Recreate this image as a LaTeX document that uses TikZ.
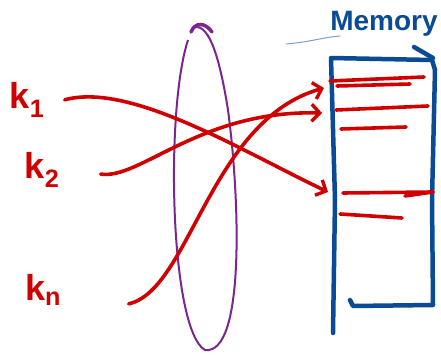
\documentclass[tikz,border=0pt]{standalone}
\usepackage{fontspec}
\setmainfont{Liberation Sans}
\usetikzlibrary{arrows.meta}
\definecolor{inkred}{HTML}{D00000}
\definecolor{inkblue}{HTML}{0B4A94}
\definecolor{inkpurple}{HTML}{7A2590}
\definecolor{inklight}{HTML}{7FA0CC}
\tikzset{
  redink/.style={draw=inkred, line width=3.6pt, line cap=round, line join=round},
  blueink/.style={draw=inkblue, line width=4.5pt, line cap=round, line join=round},
  arr/.style={-{Straight Barb[length=8pt,width=17pt,line width=3.4pt]}},
  keylabel/.style={text=inkred, font=\bfseries\fontsize{36}{36}\selectfont, inner sep=0pt},
}
\begin{document}
\begin{tikzpicture}[x=1pt,y=-1pt]
\useasboundingbox (0,0) rectangle (441,355);
% labels
\node[keylabel] (k1) at (27,100) {k\textsubscript{1}};
\node[keylabel] (k2) at (42,170) {k\textsubscript{2}};
\node[keylabel] (kn) at (43,290) {k\textsubscript{n}};
\node[text=inkblue, font=\bfseries\fontsize{28}{28}\selectfont, inner sep=0pt] (mem) at (384,24) {Memory};
\draw[inklight, line width=1pt, line cap=round] (286,44) .. controls (310,42) and (325,37) .. (340,36);
% memory block
\draw[blueink] (333,333) -- (335,200) -- (331,58) -- (432,60) -- (435,70) -- (432,200) -- (433,305) -- (353,306) -- (350,300);
\draw[blueink] (414,47) -- (433,58);
% entries
\draw[redink] (330,81) -- (424,77);
\draw[redink] (337,86) -- (410,84);
\draw[redink] (336,110) -- (428,106);
\draw[redink] (341,129) -- (406,127);
\draw[redink] (343,193) -- (433,192);
\draw[redink] (405,196) -- (433,192);
\draw[redink] (340,214) -- (402,218);
\coordinate (e1) at (324,88);
\coordinate (e2) at (322,113);
\coordinate (e3) at (328,192);
% ellipse
\draw[inkpurple, line width=2pt] (188,40) .. controls (165,110) and (170,330) .. (205,350)
  .. controls (245,355) and (240,200) .. (228,110) .. controls (220,60) and (210,25) .. (195,27);
\draw[inkpurple, line width=3.5pt, line cap=round] (191,32) .. controls (195,22) and (205,22) .. (212,32);
% connectors
\node[inner sep=0pt] (s1) at (64,100) {};
\node[inner sep=0pt] (s2) at (100,174) {};
\node[inner sep=0pt] (s3) at (128,304) {};
\draw[redink, arr] (s1) .. controls (130,82) and (240,150) .. (e3);
\draw[redink, arr] (s2) .. controls (140,180) and (200,110) .. (e2);
\draw[redink, arr] (s3) .. controls (190,290) and (210,120) .. (e1);
\end{tikzpicture}
\end{document}
